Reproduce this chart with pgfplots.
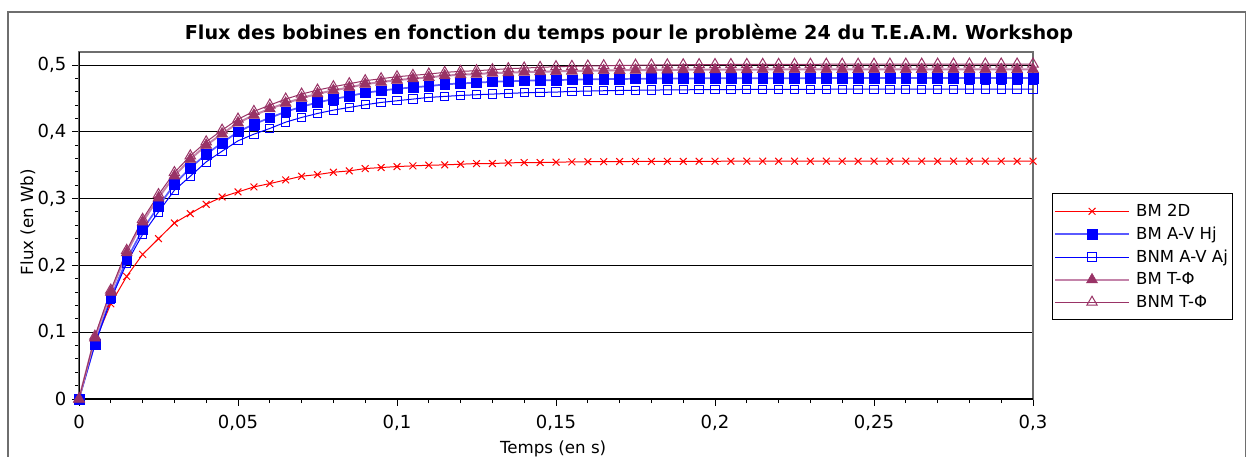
\documentclass[border=0pt]{standalone}
\usepackage{fontspec}
\setmainfont{DejaVu Sans}
\usepackage{pgfplots}
\usepackage{pgfplotstable}
\pgfplotsset{compat=1.18}
\definecolor{plum}{RGB}{153,51,102}
\definecolor{plumlight}{RGB}{196,132,170}
\definecolor{bluelight}{RGB}{90,90,255}
\definecolor{framegray}{RGB}{110,110,110}

\pgfplotstableread{
t      bmtwod  bmav    bnmav   bmtp    bnmtp
0      0       0       0       0       0
0.005  0.0860  0.0825  0.0815  0.0915  0.0940
0.010  0.1425  0.1515  0.1485  0.1600  0.1630
0.015  0.1835  0.2085  0.2035  0.2190  0.2225
0.020  0.2165  0.2535  0.2465  0.2650  0.2690
0.025  0.2400  0.2885  0.2800  0.3010  0.3060
0.030  0.2635  0.3215  0.3125  0.3340  0.3390
0.035  0.2775  0.3460  0.3335  0.3590  0.3640
0.040  0.2915  0.3665  0.3550  0.3800  0.3850
0.045  0.3025  0.3835  0.3710  0.3970  0.4025
0.050  0.3100  0.4000  0.3865  0.4135  0.4190
0.055  0.3175  0.4115  0.3965  0.4250  0.4305
0.060  0.3225  0.4210  0.4050  0.4345  0.4400
0.065  0.3280  0.4300  0.4145  0.4430  0.4490
0.070  0.3335  0.4375  0.4215  0.4505  0.4565
0.075  0.3360  0.4440  0.4275  0.4570  0.4625
0.080  0.3395  0.4490  0.4325  0.4620  0.4675
0.085  0.3415  0.4535  0.4365  0.4665  0.4720
0.090  0.3450  0.4585  0.4405  0.4715  0.4765
0.095  0.3465  0.4615  0.4440  0.4745  0.4795
0.100  0.3480  0.4645  0.4465  0.4775  0.4825
0.105  0.3490  0.4665  0.4490  0.4795  0.4845
0.110  0.3500  0.4685  0.4515  0.4815  0.4865
0.115  0.3505  0.4710  0.4530  0.4840  0.4890
0.120  0.3515  0.4725  0.4545  0.4855  0.4905
0.125  0.3525  0.4735  0.4555  0.4865  0.4915
0.130  0.3525  0.4750  0.4565  0.4880  0.4930
0.135  0.3535  0.4755  0.4575  0.4885  0.4945
0.140  0.3540  0.4765  0.4585  0.4895  0.4955
0.145  0.3540  0.4770  0.4590  0.4900  0.4965
0.150  0.3545  0.4775  0.4595  0.4905  0.4975
0.155  0.3550  0.4780  0.4605  0.4910  0.4980
0.160  0.3552  0.4785  0.4610  0.4915  0.4985
0.165  0.3553  0.4788  0.4615  0.4918  0.4990
0.170  0.3555  0.4791  0.4619  0.4921  0.4994
0.175  0.3556  0.4794  0.4622  0.4924  0.4997
0.180  0.3557  0.4796  0.4625  0.4926  0.5000
0.185  0.3558  0.4798  0.4627  0.4928  0.5002
0.190  0.3558  0.4799  0.4629  0.4929  0.5004
0.195  0.3559  0.4800  0.4631  0.4930  0.5006
0.200  0.3559  0.4801  0.4632  0.4931  0.5007
0.205  0.3560  0.4802  0.4633  0.4932  0.5008
0.210  0.3560  0.4802  0.4634  0.4932  0.5009
0.215  0.3560  0.4803  0.4635  0.4933  0.5010
0.220  0.3560  0.4803  0.4636  0.4933  0.5010
0.225  0.3560  0.4803  0.4636  0.4933  0.5011
0.230  0.3560  0.4804  0.4637  0.4934  0.5011
0.235  0.3560  0.4804  0.4637  0.4934  0.5012
0.240  0.3560  0.4804  0.4638  0.4934  0.5012
0.245  0.3560  0.4804  0.4638  0.4934  0.5012
0.250  0.3560  0.4805  0.4638  0.4935  0.5013
0.255  0.3560  0.4805  0.4639  0.4935  0.5013
0.260  0.3560  0.4805  0.4639  0.4935  0.5013
0.265  0.3560  0.4805  0.4639  0.4935  0.5013
0.270  0.3560  0.4805  0.4639  0.4935  0.5014
0.275  0.3560  0.4805  0.4639  0.4935  0.5014
0.280  0.3560  0.4805  0.4640  0.4935  0.5014
0.285  0.3560  0.4805  0.4640  0.4935  0.5014
0.290  0.3560  0.4805  0.4640  0.4935  0.5015
0.295  0.3560  0.4805  0.4640  0.4935  0.5015
0.300  0.3560  0.4805  0.4640  0.4935  0.5015
}\fluxdata

\begin{document}
\begin{tikzpicture}
\clip (0,0) rectangle (937.5pt,342.75pt);
\fill[white] (0,0) rectangle (937.5pt,342.75pt);
\draw[framegray, line width=1pt] (6pt,-2pt) -- (6pt,333.75pt) -- (934.1pt,333.75pt) -- (934.1pt,-2pt);
\begin{axis}[
  at={(59.25pt,43.5pt)}, anchor=south west,
  scale only axis,
  width=715.5pt, height=260.25pt,
  xmin=0, xmax=0.3, ymin=0, ymax=0.5195,
  xtick={0,0.05,0.1,0.15,0.2,0.25,0.3},
  ytick={0,0.1,0.2,0.3,0.4,0.5},
  minor x tick num=4,
  minor y tick num=4,
  xtick pos=bottom, ytick pos=left,
  tick align=outside,
  major tick length=5pt,
  minor tick length=3pt,
  tick style={black, line width=0.75pt},
  axis line style={framegray, line width=0.9pt},
  ymajorgrids,
  major grid style={black, line width=0.75pt},
  /pgf/number format/.cd, use comma, fixed, precision=2, assume math mode=true,
  /pgfplots/.cd,
  ticklabel style={font=\fontsize{13.5}{15}\selectfont},
  xticklabel style={yshift=-3.5pt},
  yticklabel style={xshift=-1pt},
  xlabel={Temps (en s)},
  ylabel={Flux (en Wb)},
  label style={font=\fontsize{12.5}{14}\selectfont},
  xlabel style={at={(rel axis cs:0.497,0)}, anchor=center, yshift=-37.2pt},
  ylabel style={at={(rel axis cs:-0.05346,0.51)}, anchor=center},
  title={\bfseries Flux des bobines en fonction du temps pour le problème 24 du T.E.A.M. Workshop},
  title style={at={(rel axis cs:0.5765,1.0288)}, anchor=center, yshift=0pt, font=\fontsize{14.4}{16}\selectfont},
  legend image code/.code={\draw[mark repeat=2,mark phase=2,#1] plot coordinates {(0pt,0pt) (27.4pt,0pt) (54.8pt,0pt)};},
  legend cell align=left,
  legend style={at={(rel axis cs:1.0199,0.5937)}, anchor=north west,
    draw=black, line width=0.75pt, fill=white,
    font=\fontsize{12.4}{14}\selectfont,
    inner xsep=1.5pt, inner ysep=6pt, row sep=2.3pt,
    /tikz/every odd column/.append style={column sep=3pt}},
]
\draw[black, line width=0.9pt] (rel axis cs:0,0) -- (rel axis cs:0,1);
\draw[black, line width=1.8pt] (rel axis cs:0,0) -- (rel axis cs:1,0);
\addplot[red, line width=0.75pt, mark=x, mark size=3.6pt, mark options={line width=0.75pt}] table[x=t, y=bmtwod] {\fluxdata};
\addlegendentry{BM 2D}
\addplot[bluelight, line width=1.3pt, mark=square*, mark size=3.7pt, mark options={blue, fill=blue, line width=0.4pt}] table[x=t, y=bmav] {\fluxdata};
\addlegendentry{BM A-V Hj}
\addplot[blue, line width=0.75pt, mark=square, mark size=3.1pt, mark options={blue, fill=white, line width=0.75pt}] table[x=t, y=bnmav] {\fluxdata};
\addlegendentry{BNM A-V Aj}
\addplot[plumlight, line width=1.5pt, mark=triangle*, mark size=4.8pt, mark options={plum, fill=plum, line width=0.4pt}] table[x=t, y=bmtp] {\fluxdata};
\addlegendentry{BM T-Φ}
\addplot[plum, line width=0.75pt, mark=triangle, mark size=4.5pt, mark options={plum, fill=white, line width=0.75pt}] table[x=t, y=bnmtp] {\fluxdata};
\addlegendentry{BNM T-Φ}
\end{axis}
\end{tikzpicture}
\end{document}
